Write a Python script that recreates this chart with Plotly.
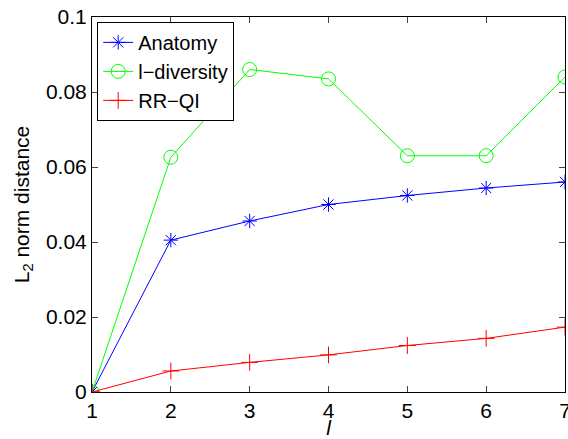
import plotly.graph_objects as go

l_values = [1, 2, 3, 4, 5, 6, 7]
anatomy = [0.0, 0.0405, 0.0456, 0.0500, 0.0524, 0.0544, 0.0560]
l_diversity = [0.0, 0.0626, 0.0860, 0.0835, 0.0630, 0.0630, 0.0840]
rr_qi = [0.0, 0.0056, 0.0079, 0.0099, 0.0124, 0.0143, 0.0173]
y_ticks = [0, 0.02, 0.04, 0.06, 0.08, 0.1]
y_ticktext = ["0", "0.02", "0.04", "0.06", "0.08", "0.1"]

font_family = "Liberation Sans, Arial, sans-serif"
fs = 21

fig = go.Figure()
fig.add_trace(go.Scatter(x=l_values, y=anatomy, name="Anatomy", mode="lines+markers",
                         line=dict(color="#0000ff", width=1),
                         marker=dict(symbol="asterisk-open", size=12, color="#0000ff",
                                     line=dict(color="#0000ff", width=1))))
fig.add_trace(go.Scatter(x=l_values, y=l_diversity, name="l\u2212diversity", mode="lines+markers",
                         line=dict(color="#00ff00", width=1),
                         marker=dict(symbol="circle-open", size=14, color="#00ff00",
                                     line=dict(color="#00ff00", width=1))))
fig.add_trace(go.Scatter(x=l_values, y=rr_qi, name="RR\u2212QI", mode="lines+markers",
                         line=dict(color="#ff0000", width=1),
                         marker=dict(symbol="cross-thin-open", size=12, color="#ff0000",
                                     line=dict(color="#ff0000", width=1))))

fig.update_layout(
    width=568, height=439,
    margin=dict(l=92, r=3, t=17, b=47),
    paper_bgcolor="white", plot_bgcolor="white",
    font=dict(family=font_family, size=fs, color="black"),
    showlegend=True,
    legend=dict(x=0.011, y=0.987, xanchor="left", yanchor="top",
                bgcolor="white", bordercolor="black", borderwidth=1,
                font=dict(size=20), tracegroupgap=0, itemwidth=30),
    xaxis=dict(range=[1, 7], tickvals=l_values, ticks="inside", ticklen=6,
               ticklabeloverflow="allow", automargin=False,
               showline=True, linecolor="black", linewidth=1, mirror="ticks",
               showgrid=False, zeroline=False, tickfont=dict(size=fs),
               title=dict(text="<i>l</i>", standoff=3, font=dict(size=fs))),
    yaxis=dict(range=[0, 0.1], tickvals=y_ticks, ticktext=y_ticktext,
               ticks="inside", ticklen=6, ticklabeloverflow="allow", automargin=False,
               showline=True, linecolor="black", linewidth=1, mirror="ticks",
               showgrid=False, zeroline=False, tickfont=dict(size=fs),
               title=dict(text="L<sub>2</sub> norm distance", standoff=10, font=dict(size=fs))),
)

fig.write_html("out.html")
